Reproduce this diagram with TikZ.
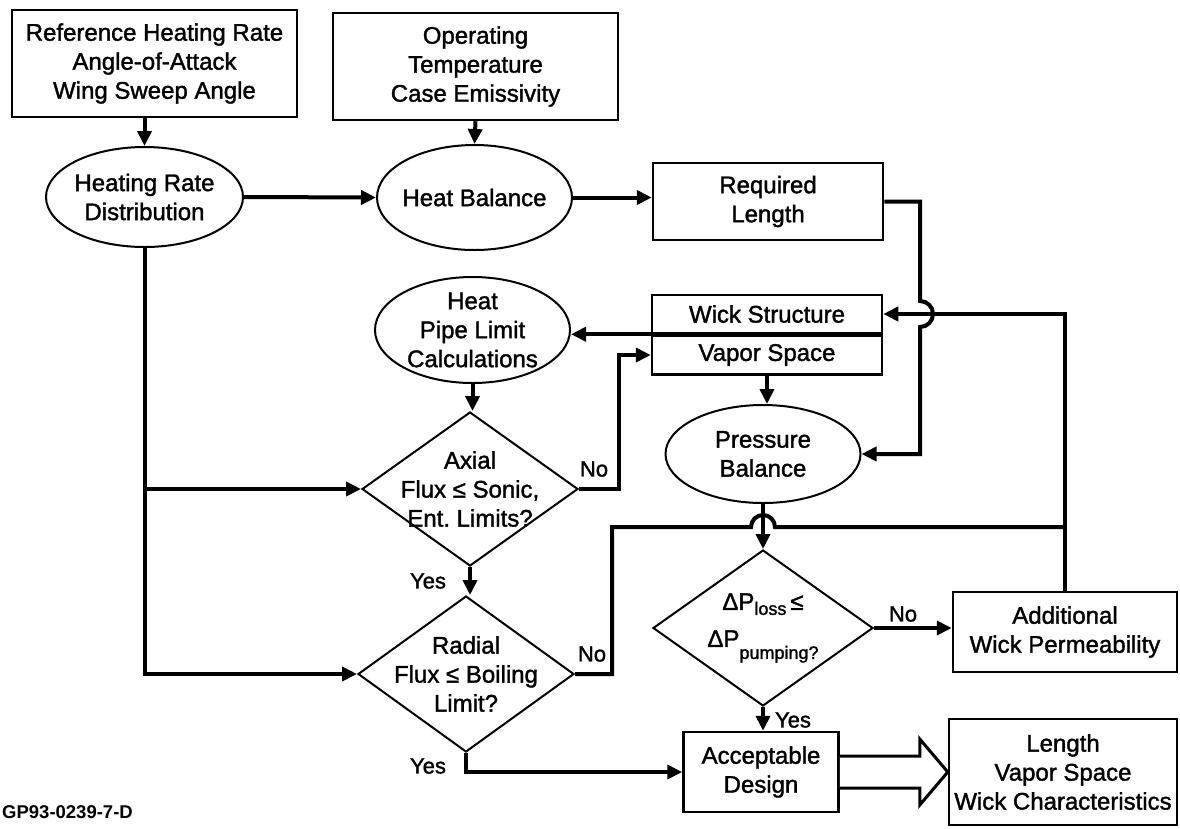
\documentclass[tikz,border=0pt]{standalone}
\usepackage{fontspec}
\setmainfont{Liberation Sans}
\newfontfamily\medium{Liberation Sans}[FakeBold=1.5]
\usetikzlibrary{shapes.geometric,arrows.meta,calc}

\newcommand{\subsz}{\fontsize{18}{18}\selectfont}

\tikzset{
  txt/.style={font=\medium\fontsize{24}{29}\selectfont, align=center},
  box/.style={txt, draw, line width=2.5pt, inner sep=0pt},
  oval/.style={txt, ellipse, draw, line width=2pt, inner sep=-12pt},
  decision/.style={txt, diamond, draw, line width=2pt, inner sep=-30pt},
  flow/.style={line width=4pt, -{Triangle[length=15pt,width=14pt]}},
  wire/.style={line width=4pt},
  answer/.style={font=\medium\fontsize{22}{26}\selectfont, inner sep=0pt}
}

\begin{document}
\begin{tikzpicture}[x=1pt,y=-1pt]
		\useasboundingbox (0,0) rectangle (1180,828);

		% Inputs
		\node[box, minimum width=285pt, minimum height=107pt] (ref) at (154.5,63.5) {Reference Heating Rate\\Angle-of-Attack\\Wing Sweep Angle};
		\node[box, minimum width=285pt, minimum height=107pt] (oper) at (475.5,66.5) {Operating\\Temperature\\Case Emissivity};

		% Upper row
		\node[oval, minimum width=197pt, minimum height=100pt] (hrd) at (144.5,197) {Heating Rate\\Distribution};
		\node[oval, minimum width=195pt, minimum height=105pt] (hbal) at (474.5,197.5) {Heat Balance};
		\node[box, minimum width=230pt, minimum height=77pt] (reqlen) at (768,201.5) {Required\\Length};

		% Middle row
		\node[oval, minimum width=195pt, minimum height=106pt] (hpl) at (472.5,330) {Heat\\Pipe Limit\\Calculations};
		\node[box, minimum width=230pt, minimum height=38pt] (wick) at (767,314) {Wick Structure};
		\node[box, minimum width=230pt, minimum height=39pt, anchor=north] (vapor) at (wick.south) {Vapor Space};
		\node[oval, minimum width=195pt, minimum height=98pt] (pres) at (763,454) {Pressure\\Balance};

		% Decisions
		\node[decision, minimum width=216pt, minimum height=154pt] (axial) at (470,489) {Axial\\Flux ≤ Sonic,\\Ent.\ Limits?};
		\node[decision, minimum width=216pt, minimum height=156pt] (radial) at (466,674) {Radial\\Flux ≤ Boiling\\Limit?};
		\node[decision, minimum width=220pt, minimum height=156pt] (pdiam) at (763,628)
			{ΔP\raisebox{-5pt}{\subsz loss}\,≤\\[8pt]ΔP\raisebox{-12pt}{\subsz pumping?}};

		% Results
		\node[box, minimum width=224pt, minimum height=80pt] (addl) at (1065,632) {Additional\\Wick Permeability};
		\node[box, minimum width=155pt, minimum height=80pt] (accept) at (761,772) {Acceptable\\Design};
		\node[box, minimum width=228pt, minimum height=106pt] (outp) at (1063,772) {Length\\Vapor Space\\Wick Characteristics};
		\node[font=\bfseries\fontsize{18.5}{21}\selectfont, anchor=west, inner sep=0pt] (gpnum) at (2,812) {GP93-0239-7-D};

		% Helper points
		\coordinate (rx) at (920,0);
		\coordinate (lx) at (612,527);

		% Connectors
		\draw[flow] (hrd.north |- ref.south) -- (hrd.north);
		\draw[flow] (oper.south) -- (hbal.north);
		\draw[flow] (hrd.east) -- (hbal.west);
		\draw[flow] (hbal.east) -- (hbal.east -| reqlen.west);
		\draw[flow] (reqlen.east) -- (reqlen.east -| rx) -- ($(wick.east -| rx)+(0,-13)$)
			arc[start angle=90, end angle=-90, radius=13pt] -- (pres.east -| rx) -- (pres.east);
		\draw[flow] (wick.south west) -- (wick.south west -| hpl.east);
		\draw[flow] (vapor.south) -- (vapor.south |- pres.north);
		\draw[flow] (hpl.south) -- (hpl.south |- axial.north);
		\draw[flow] (hrd.south) |- (radial.west);
		\draw[flow] (hrd.south |- axial.west) -- (axial.west);
		\draw[flow] (axial.east) -- ++(40,0) |- (vapor.west);
		\draw[flow] (axial.south) -- (axial.south |- radial.north);
		\draw[flow] (radial.south) |- (accept.west);
		\draw[flow] (pres.south) -- (pdiam.north);
		\draw[flow] (pdiam.south) -- (pdiam.south |- accept.north);
		\draw[flow] (pdiam.east) -- (pdiam.east -| addl.west);
		\draw[flow] (addl.north) |- (wick.east);
		\draw[wire] (radial.east) -| (lx) -- ($(pres.south |- lx)+(-12,0)$)
			arc[start angle=180, end angle=0, radius=12pt] -- (addl.north |- lx);

		% Output arrow
		\draw[line width=3pt, fill=white] ($(accept.east)+(0,-16)$) -- ++(80,0) -- ++(0,-17) -- (outp.west)
			-- ($(accept.east)+(80,33)$) -- ++(0,-17) -- ($(accept.east)+(0,16)$);

		% Yes / No
		\node[answer] (noaxial) at (594,469) {No};
		\node[answer] (yesaxial) at (428,581) {Yes};
		\node[answer] (noradial) at (592,654) {No};
		\node[answer] (yesradial) at (428,766) {Yes};
		\node[answer] (nopres) at (903,614) {No};
		\node[answer] (yespres) at (793,720) {Yes};
	\end{tikzpicture}
\end{document}
